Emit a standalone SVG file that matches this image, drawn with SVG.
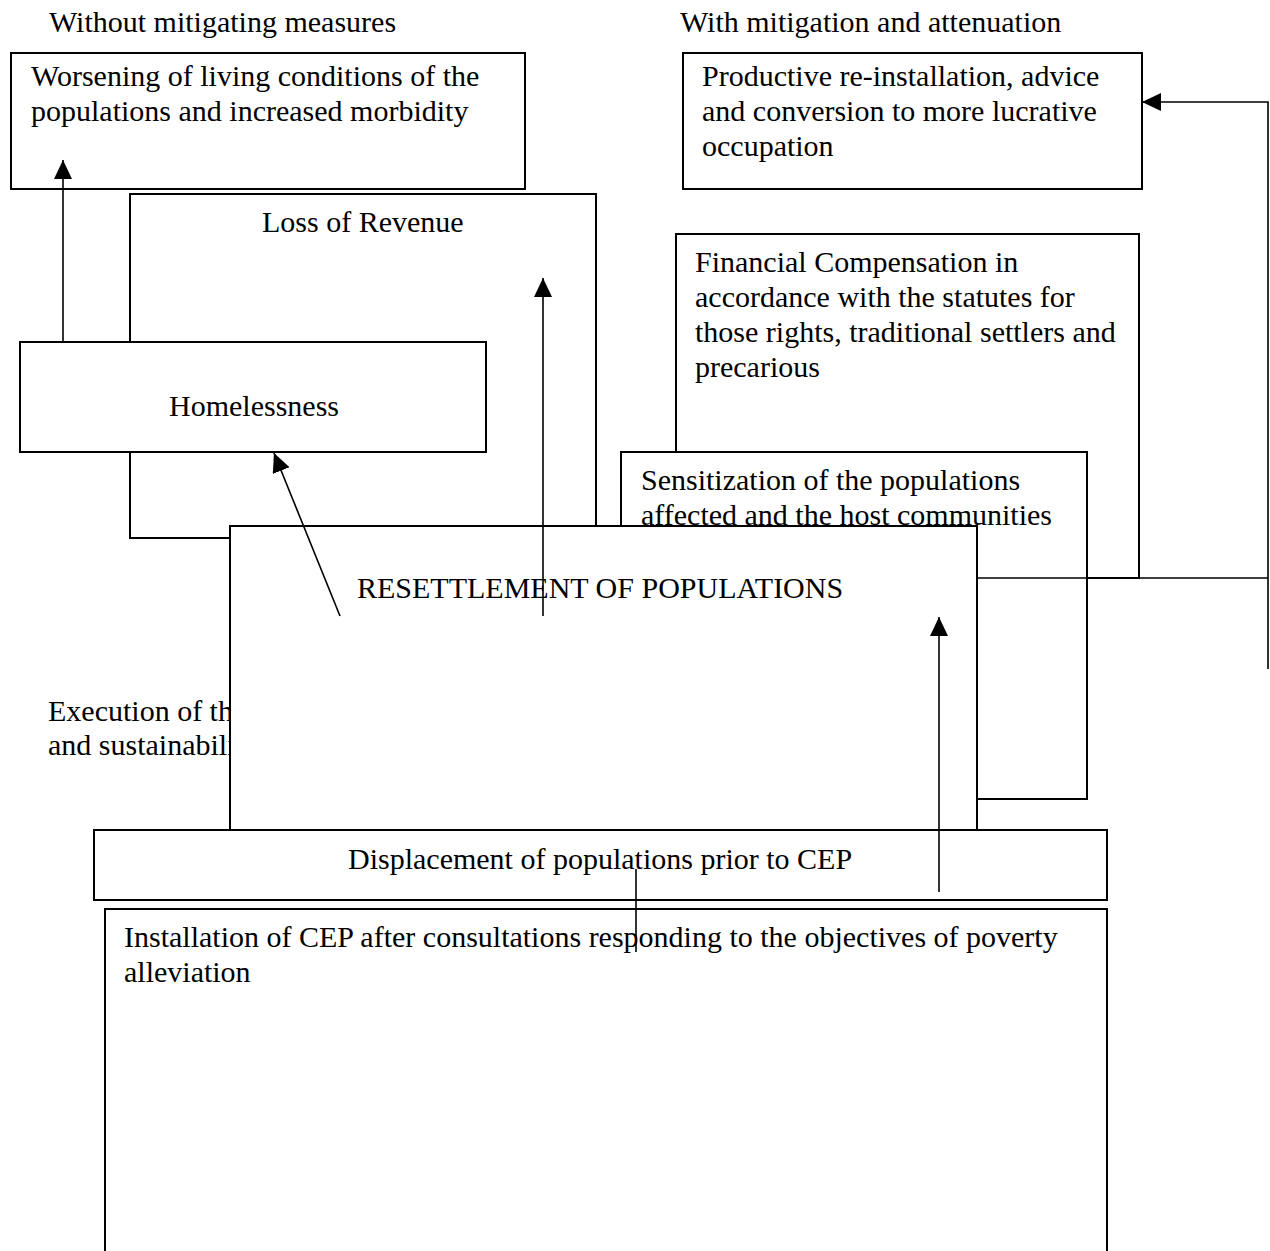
<svg xmlns="http://www.w3.org/2000/svg" width="1270" height="1251" viewBox="0 0 1270 1251">
<style>
.box{fill:#fff;stroke:#000;stroke-width:2}
.t{font-family:"Liberation Serif","Times New Roman",serif;font-size:30px;fill:#000}
.c{fill:none;stroke:#000;stroke-width:1.6}
</style>
<defs>
<marker id="ah" markerUnits="userSpaceOnUse" markerWidth="19" markerHeight="18" refX="19" refY="9" orient="auto">
<path d="M0,0 L19,9 L0,18 z" fill="#000"/>
</marker>
</defs>
<rect width="1270" height="1251" fill="#fff"/>
<text class="t" x="49" y="32">Without mitigating measures</text>
<text class="t" x="680" y="32">With mitigation and attenuation</text>
<g id="loss-of-revenue">
<rect class="box" x="130" y="194" width="466" height="344"/>
<text class="t" x="262" y="232">Loss of Revenue</text>
</g>
<g id="worsening">
<rect class="box" x="11" y="53" width="514" height="136"/>
<text class="t" x="31" y="86">Worsening of living conditions of the</text>
<text class="t" x="31" y="121">populations and increased morbidity</text>
</g>
<g id="homelessness">
<rect class="box" x="20" y="342" width="466" height="110"/>
<text class="t" x="169" y="416">Homelessness</text>
</g>
<g id="productive">
<rect class="box" x="683" y="53" width="459" height="136"/>
<text class="t" x="702" y="86">Productive re-installation, advice</text>
<text class="t" x="702" y="121">and conversion to more lucrative</text>
<text class="t" x="702" y="156">occupation</text>
</g>
<g id="financial">
<rect class="box" x="676" y="234" width="463" height="344"/>
<text class="t" x="695" y="272">Financial Compensation in</text>
<text class="t" x="695" y="307">accordance with the statutes for</text>
<text class="t" x="695" y="342">those rights, traditional settlers and</text>
<text class="t" x="695" y="377">precarious</text>
</g>
<g id="sensitization">
<rect class="box" x="621" y="452" width="466" height="347"/>
<text class="t" x="641" y="490">Sensitization of the populations</text>
<text class="t" x="641" y="525">affected and the host communities</text>
</g>
<g id="execution">
<text class="t" x="48" y="721">Execution of the</text>
<text class="t" x="48" y="755">and sustainability</text>
</g>
<g id="resettlement">
<rect class="box" x="230" y="526" width="747" height="304"/>
<text class="t" x="357" y="598">RESETTLEMENT OF POPULATIONS</text>
</g>
<g id="displacement">
<rect class="box" x="94" y="830" width="1013" height="70"/>
<text class="t" x="348" y="869">Displacement of populations prior to CEP</text>
</g>
<g id="installation">
<rect class="box" x="105" y="909" width="1002" height="360"/>
<text class="t" x="124" y="947">Installation of CEP after consultations responding to the objectives of poverty</text>
<text class="t" x="124" y="982">alleviation</text>
</g>
<g id="connectors">
<line class="c" x1="63" y1="342" x2="63" y2="160" marker-end="url(#ah)"/>
<line class="c" x1="543" y1="616" x2="543" y2="278" marker-end="url(#ah)"/>
<line class="c" x1="340" y1="616" x2="274" y2="453" marker-end="url(#ah)"/>
<line class="c" x1="939" y1="892" x2="939" y2="617" marker-end="url(#ah)"/>
<line class="c" x1="976" y1="578" x2="1268" y2="578"/>
<polyline class="c" points="1268,669 1268,102 1142,102" marker-end="url(#ah)"/>
<line class="c" x1="636" y1="869" x2="636" y2="952"/>
</g>
</svg>
